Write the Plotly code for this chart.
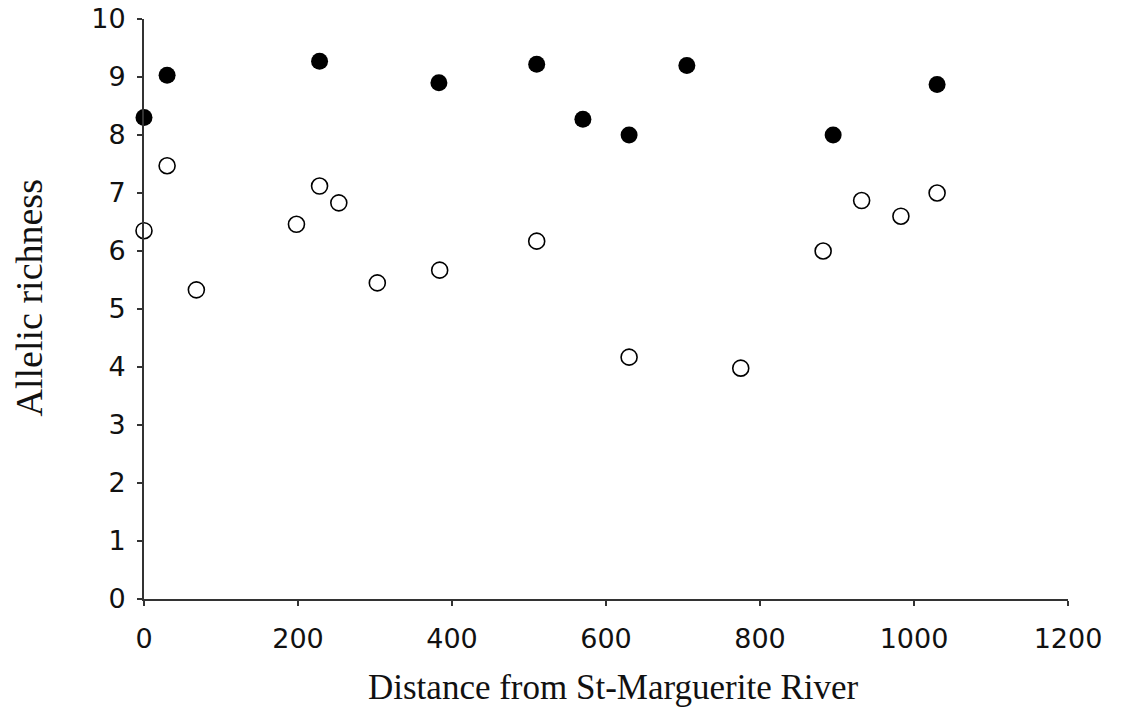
import plotly.graph_objects as go

filled_x = [0, 30, 228, 383, 510, 570, 630, 705, 895, 1030]
filled_y = [8.3, 9.03, 9.27, 8.9, 9.22, 8.27, 8.0, 9.2, 8.0, 8.87]

open_x = [0, 30, 68, 198, 228, 253, 303, 384, 510, 630, 775, 882, 932, 983, 1030]
open_y = [6.35, 7.47, 5.33, 6.46, 7.12, 6.83, 5.45, 5.67, 6.17, 4.17, 3.98, 6.0, 6.87, 6.6, 7.0]

x_ticks = [0, 200, 400, 600, 800, 1000, 1200]
y_ticks = list(range(0, 11))

fig = go.Figure()
fig.add_trace(go.Scatter(x=open_x, y=open_y, mode="markers",
                         marker=dict(size=16, color="white", line=dict(color="black", width=1.6)),
                         cliponaxis=False, showlegend=False))
fig.add_trace(go.Scatter(x=filled_x, y=filled_y, mode="markers",
                         marker=dict(size=17, color="black", line=dict(color="black", width=0)),
                         cliponaxis=False, showlegend=False))

axis_font = dict(family="DejaVu Sans", size=27, color="#111")
title_font_x = dict(family="Liberation Serif", size=35, color="#111")
title_font_y = dict(family="Liberation Serif", size=38, color="#111")
fig.update_layout(
    width=1141, height=717,
    margin=dict(l=144, r=73, t=19, b=118, autoexpand=False),
    plot_bgcolor="white", paper_bgcolor="white",
    xaxis=dict(range=[0, 1200], tickvals=x_ticks, showgrid=False, zeroline=False,
               showline=True, linecolor="#333", linewidth=2, ticks="outside", ticklen=5,
               tickcolor="#333", tickwidth=2, tickfont=axis_font, ticklabelstandoff=10,
               automargin=False),
    yaxis=dict(range=[0, 10], tickvals=y_ticks, showgrid=False, zeroline=False,
               showline=True, linecolor="#333", linewidth=2, ticks="outside", ticklen=5,
               tickcolor="#333", tickwidth=2, tickfont=axis_font, ticklabelstandoff=6,
               automargin=False),
    annotations=[
        dict(text="Distance from St-Marguerite River", xref="paper", yref="paper",
             x=0.5076, y=-0.153, xanchor="center", yanchor="middle",
             showarrow=False, font=title_font_x),
        dict(text="Allelic richness", xref="paper", yref="paper",
             x=-0.125, y=0.519, xanchor="center", yanchor="middle", textangle=-90,
             showarrow=False, font=title_font_y),
    ],
)
fig.write_html("out.html")
